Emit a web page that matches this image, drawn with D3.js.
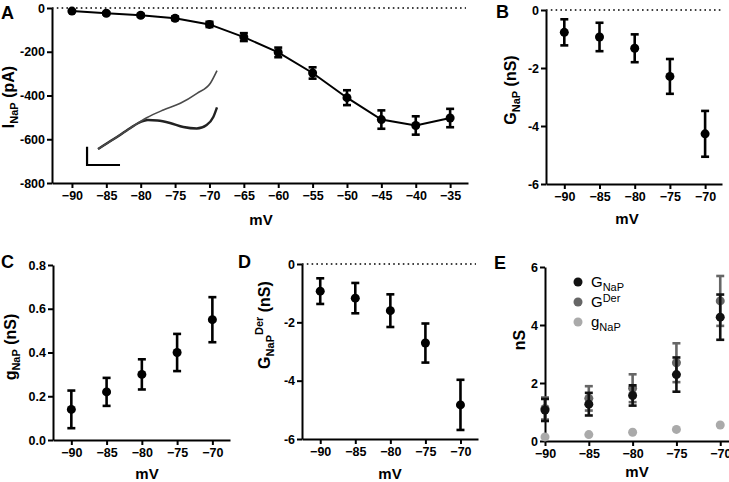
<!DOCTYPE html>
<html><head><meta charset="utf-8">
<script src="https://cdn.jsdelivr.net/npm/d3@7"></script>
<style>
body{margin:0;background:#fff;}
svg{display:block;font-family:"Liberation Sans",Arial,sans-serif;}
.tick text{font-weight:bold;font-size:12.5px;fill:#000;}
</style></head><body>
<svg id="c" width="729" height="482"></svg>
<script>
// ---------- data ----------
const voltsA = [-90,-85,-80,-75,-70,-65,-60,-55,-50,-45,-40,-35];
const iNaP = [-14,-24,-33,-47,-75,-133,-203,-297,-410,-510,-537,-503];
const iNaPErr = [4,5,6,8,12,18,22,26,34,42,42,42];
const ticksA_x = [-90,-85,-80,-75,-70,-65,-60,-55,-50,-45,-40,-35];
const ticksA_y = [0,-200,-400,-600,-800];

const volts = [-90,-85,-80,-75,-70];
const GNaP = [-0.77,-0.93,-1.32,-2.29,-4.27];
const GNaPErr = [0.45,0.49,0.48,0.60,0.79];
const gNaP = [0.14,0.22,0.30,0.40,0.55];
const gNaPErr = [0.086,0.064,0.069,0.085,0.103];
const GDer = [-0.93,-1.17,-1.60,-2.71,-4.83];
const GDerErr = [0.44,0.52,0.56,0.67,0.86];
const eGNaP = [1.07,1.27,1.57,2.29,4.27];
const eGNaPErr = [0.38,0.39,0.35,0.59,0.78];
const eGDer = [1.12,1.47,1.82,2.70,4.83];
const eGDerErr = [0.38,0.42,0.48,0.67,0.86];
const egNaP = [0.14,0.22,0.30,0.40,0.55];
const ticksNeg6 = [0,-2,-4,-6];
const ticksC = [0,0.2,0.4,0.6,0.8];
const ticksE = [0,2,4,6];

// inset traces (arbitrary units: time 0-100, current)
const upperT = [0,12.9,26.9,40.9,54.9,69.2,83.2,94.4,100];
const upperI = [-79,-69.3,-58.3,-47.7,-40,-33.3,-23.3,-13.3,-0.7];
const lowerT = [0,12.9,26.9,34,42,50,60.5,71.7,83,91.3,96.9,100];
const lowerI = [-79,-69.3,-58.3,-53,-50,-50.5,-53,-57,-58.5,-55,-47,-37.3];
const scaleBarT = [-9.2,-9.2,18.5];
const scaleBarI = [-76.7,-95,-95];

const svg = d3.select("#c");

function errDots(g, x, y, xs, ys, es, color, r, capW, sw){
  const d = xs.map((v,i)=>({x:v,y:ys[i],e:es?es[i]:0}));
  if(es){
    const eb = g.append("g").attr("stroke",color).attr("stroke-width",sw);
    d.forEach(p=>{
      const px=x(p.x), y1=y(p.y+p.e), y2=y(p.y-p.e);
      eb.append("line").attr("x1",px).attr("x2",px).attr("y1",y1).attr("y2",y2);
      eb.append("line").attr("x1",px-capW/2).attr("x2",px+capW/2).attr("y1",y1).attr("y2",y1);
      eb.append("line").attr("x1",px-capW/2).attr("x2",px+capW/2).attr("y1",y2).attr("y2",y2);
    });
  }
  g.append("g").selectAll("circle").data(d).join("circle")
    .attr("cx",p=>x(p.x)).attr("cy",p=>y(p.y)).attr("r",r).attr("fill",color);
}

function axes(g, x, y, xt, yt, fmt, xAt, yAt){
  const ax = g.append("g").attr("transform",`translate(0,${xAt})`)
    .call(d3.axisBottom(x).tickValues(xt).tickSize(5).tickSizeOuter(0).tickPadding(3));
  const ay = g.append("g").attr("transform",`translate(${yAt},0)`)
    .call(d3.axisLeft(y).tickValues(yt).tickSize(5).tickSizeOuter(0).tickPadding(2).tickFormat(fmt||(d=>d)));
  [ax,ay].forEach(a=>{a.selectAll("path,line").attr("stroke","#000").attr("stroke-width",2);});
}

function zeroLine(g, x0, x1, y0){
  g.append("line").attr("x1",x0).attr("x2",x1).attr("y1",y0).attr("y2",y0)
    .attr("stroke","#000").attr("stroke-width",1.6).attr("stroke-dasharray","1.6,3.2");
}

function label(txt, x, y, size){
  svg.append("text").attr("x",x).attr("y",y).attr("font-size",size||18).attr("font-weight","bold").text(txt);
}
function xTitle(x,y){
  svg.append("text").attr("x",x).attr("y",y).attr("text-anchor","middle")
    .attr("font-size",15).attr("font-weight","bold").text("mV");
}
function yTitle(x,y,parts){
  const t = svg.append("text").attr("transform",`translate(${x},${y}) rotate(-90)`)
    .attr("text-anchor","middle").attr("font-size",16).attr("font-weight","bold");
  parts.forEach(p=>{
    const s=t.append("tspan").text(p.t);
    if(p.s) s.attr("font-size",p.s);
    if(p.dy) s.attr("dy",p.dy);
  });
}

// ---------- Panel A ----------
{
  const g = svg.append("g");
  const x = d3.scaleLinear().domain([-92.9,-32.4]).range([52,468]);
  const y = d3.scaleLinear().domain([-800,0]).range([183,8]);
  zeroLine(g, 52, 466, y(0));
  axes(g,x,y,ticksA_x,ticksA_y,null,183,52);
  const line = d3.line().x(i=>x(voltsA[i])).y(i=>y(iNaP[i]));
  g.append("path").attr("d",line(d3.range(voltsA.length))).attr("fill","none")
    .attr("stroke","#000").attr("stroke-width",2);
  errDots(g,x,y,voltsA,iNaP,iNaPErr,"#000",4.5,8,2.6);
  // inset
  const ix = d3.scaleLinear().domain([0,100]).range([98,217]);
  const iy = d3.scaleLinear().domain([-80,0]).range([150,70]);
  const tl = d3.line().x(d=>ix(d[0])).y(d=>iy(d[1])).curve(d3.curveMonotoneX);
  g.append("path").attr("d",tl(lowerT.map((t,i)=>[t,lowerI[i]]))).attr("fill","none")
    .attr("stroke","#222").attr("stroke-width",2.4);
  g.append("path").attr("d",tl(upperT.map((t,i)=>[t,upperI[i]]))).attr("fill","none")
    .attr("stroke","#4a4a4a").attr("stroke-width",1.6);
  const sl = d3.line().x(d=>ix(d[0])).y(d=>iy(d[1]));
  g.append("path").attr("d",sl(scaleBarT.map((t,i)=>[t,scaleBarI[i]]))).attr("fill","none")
    .attr("stroke","#000").attr("stroke-width",2.2);
  label("A",1,19);
  xTitle(261,225);
  yTitle(14,97,[{t:"I"},{t:"NaP",s:11,dy:4},{t:" (pA)",dy:-4}]);
}

// ---------- Panel B ----------
{
  const g = svg.append("g");
  const x = d3.scaleLinear().domain([-92.6,-67.6]).range([546,722]);
  const y = d3.scaleLinear().domain([-6,0]).range([184,10]);
  zeroLine(g, 546, 721, y(0));
  axes(g,x,y,volts,ticksNeg6,null,184,546);
  errDots(g,x,y,volts,GNaP,GNaPErr,"#000",4.5,8,2.6);
  label("B",496,18);
  xTitle(627,224);
  yTitle(516,90,[{t:"G"},{t:"NaP",s:11,dy:4},{t:" (nS)",dy:-4}]);
}

// ---------- Panel C ----------
{
  const g = svg.append("g");
  const x = d3.scaleLinear().domain([-92.6,-67.5]).range([53,230]);
  const y = d3.scaleLinear().domain([0,0.8]).range([440,265]);
  axes(g,x,y,volts,ticksC,d3.format(".1f"),440,53);
  errDots(g,x,y,volts,gNaP,gNaPErr,"#000",4.5,8,2.6);
  label("C",1,268);
  xTitle(147,479);
  yTitle(16,347,[{t:"g"},{t:"NaP",s:11,dy:4},{t:" (nS)",dy:-4}]);
}

// ---------- Panel D ----------
{
  const g = svg.append("g");
  const x = d3.scaleLinear().domain([-92.6,-67.5]).range([302,478]);
  const y = d3.scaleLinear().domain([-6,0]).range([439,264]);
  zeroLine(g, 302, 476, y(0));
  axes(g,x,y,volts,ticksNeg6,null,439,302);
  errDots(g,x,y,volts,GDer,GDerErr,"#000",4.5,8,2.6);
  label("D",238,268);
  xTitle(390,479);
  yTitle(270,325,[{t:"G"},{t:"NaP",s:11,dy:4},{t:"Der",s:11,dy:-11},{t:" (nS)",dy:7}]);
}

// ---------- Panel E ----------
{
  const g = svg.append("g");
  const x = d3.scaleLinear().domain([-90,-69]).range([545,729]);
  const y = d3.scaleLinear().domain([0,6]).range([441,267]);
  axes(g,x,y,volts,ticksE,null,441,545);
  errDots(g,x,y,volts,egNaP,null,"#aaaaaa",4.5,8,2.6);
  errDots(g,x,y,volts,eGDer,eGDerErr,"#666666",4.5,8,2.6);
  errDots(g,x,y,volts,eGNaP,eGNaPErr,"#111111",4.5,8,2.6);
  // legend
  const leg = [{c:"#111111",p:[{t:"G"},{t:"NaP",s:11,dy:4}]},
               {c:"#666666",p:[{t:"G"},{t:"Der",s:11,dy:-5}]},
               {c:"#aaaaaa",p:[{t:"g"},{t:"NaP",s:11,dy:4}]}];
  leg.forEach((l,i)=>{
    const ly = 282 + i*20;
    g.append("circle").attr("cx",578).attr("cy",ly).attr("r",4.5).attr("fill",l.c);
    const t = g.append("text").attr("x",591).attr("y",ly+5).attr("font-size",15).attr("fill","#000");
    l.p.forEach(p=>{const s=t.append("tspan").text(p.t); if(p.s) s.attr("font-size",p.s); if(p.dy) s.attr("dy",p.dy);});
  });
  label("E",494,269);
  xTitle(637,477);
  yTitle(525,340,[{t:"nS"}]);
}
</script>
</body></html>
